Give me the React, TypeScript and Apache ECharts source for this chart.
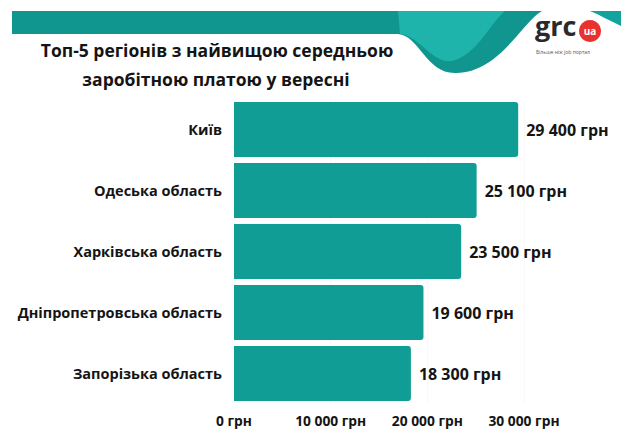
import React, { useEffect, useRef } from "react";
import * as echarts from "echarts";

const categories = [
  "Київ",
  "Одеська область",
  "Харківська область",
  "Дніпропетровська область",
  "Запорізька область",
];
const salaries = [29400, 25100, 23500, 19600, 18300];
const titleLines = ["Топ-5 регіонів з найвищою середньою", "заробітною платою у вересні"];
const axisTicks = [0, 10000, 20000, 30000];
const unit = "грн";

const fmt = (v: number) =>
  String(Math.round(v)).replace(/\B(?=(\d{3})+(?!\d))/g, " ") + " " + unit;

const FONT = "'Open Sans', 'Noto Sans', sans-serif";
const INK = "#141414";

let registered = false;
function registerShapes() {
  if (registered) return;
  registered = true;
  echarts.graphic.registerShape(
    "waveDark",
    echarts.graphic.extendPath(
      "M 12 11 L 542 11 C 522 22, 500 72, 456 73 C 426 74, 420 36, 398 34 L 12 34 Z",
      {}
    ) as any
  );
  echarts.graphic.registerShape(
    "waveLight",
    echarts.graphic.extendPath(
      "M 398 11 L 505 11 C 488 26, 478 54, 452 61 C 432 64, 420 36, 400 34 Z",
      {}
    ) as any
  );
  echarts.graphic.registerShape(
    "waveRight",
    echarts.graphic.extendPath(
      "M 590 11 L 621 11 L 621 26 C 610 21, 600 15, 590 11 Z",
      {}
    ) as any
  );
}

export default function App() {
  const ref = useRef<HTMLDivElement>(null);
  useEffect(() => {
    if (!ref.current) return;
    registerShapes();
    const chart = echarts.init(ref.current, null, { renderer: "svg" });
    chart.setOption({
      animation: false,
      backgroundColor: "#ffffff",
      textStyle: { fontFamily: FONT },
      grid: { left: 234, right: 97, top: 99, bottom: 28, containLabel: false },
      xAxis: {
        type: "value",
        min: axisTicks[0],
        max: axisTicks[axisTicks.length - 1],
        interval: axisTicks[1] - axisTicks[0],
        axisLine: { show: false },
        axisTick: { show: false },
        splitLine: { show: true, lineStyle: { color: "#f8f8f8", width: 1 } },
        axisLabel: {
          formatter: (v: number) => fmt(v),
          color: INK,
          fontFamily: FONT,
          fontWeight: "bold",
          fontSize: 13.8,
          margin: 9,
        },
      },
      yAxis: {
        type: "category",
        data: categories,
        inverse: true,
        axisLine: { show: false },
        axisTick: { show: false },
        axisLabel: {
          color: INK,
          fontFamily: FONT,
          fontWeight: "bold",
          fontSize: 14.5,
          margin: 12,
        },
      },
      series: [
        {
          type: "bar",
          data: salaries,
          barCategoryGap: "10%",
          itemStyle: { color: "#109d95", borderRadius: [0, 3, 3, 0] },
          label: {
            show: true,
            position: "right",
            distance: 8,
            formatter: (p: any) => fmt(p.value),
            color: INK,
            fontFamily: FONT,
            fontWeight: "bold",
            fontSize: 16,
          },
        },
      ],
      graphic: [
        { type: "waveDark", x: 0, y: 0, silent: true, style: { fill: "#10958f" } },
        { type: "waveLight", x: 0, y: 0, silent: true, style: { fill: "#1eb3ab" } },
        { type: "waveRight", x: 0, y: 0, silent: true, style: { fill: "#12a39c" } },
        {
          type: "text",
          left: 535,
          top: 12,
          style: {
            text: "grc",
            fill: "#2a2a2a",
            font: `bold 27px ${FONT}`,
          },
        },
        {
          type: "circle",
          shape: { cx: 590, cy: 31, r: 11 },
          style: { fill: "#e8322e" },
        },
        {
          type: "text",
          x: 590,
          y: 31,
          style: {
            text: "ua",
            fill: "#ffffff",
            font: `bold 10px ${FONT}`,
            align: "center",
            verticalAlign: "middle",
          },
        },
        {
          type: "text",
          left: 536,
          top: 49,
          style: {
            text: "Більше ніж job портал",
            fill: "#555555",
            font: `5px ${FONT}`,
          },
        },
        {
          type: "text",
          x: 217,
          y: 50,
          style: {
            text: titleLines[0],
            fill: INK,
            font: `bold 17.5px ${FONT}`,
            align: "center",
            verticalAlign: "middle",
          },
        },
        {
          type: "text",
          x: 216,
          y: 79,
          style: {
            text: titleLines[1],
            fill: INK,
            font: `bold 17.5px ${FONT}`,
            align: "center",
            verticalAlign: "middle",
          },
        },
      ],
    });
    return () => chart.dispose();
  }, []);
  return (
    <div
      ref={ref}
      style={{ position: "fixed", left: 0, top: 0, width: 621, height: 432 }}
    />
  );
}
